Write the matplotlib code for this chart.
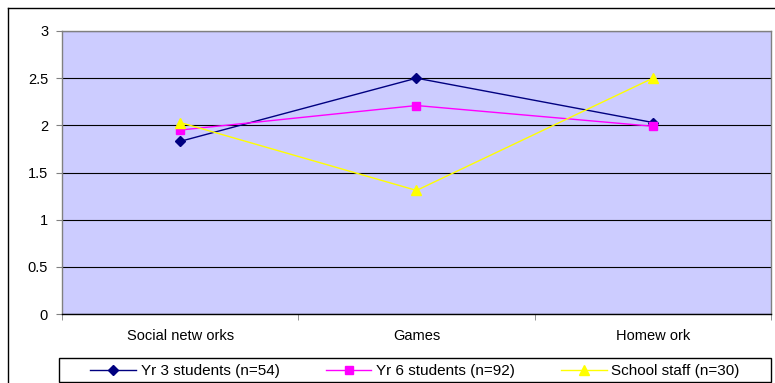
import matplotlib.pyplot as plt
from matplotlib.lines import Line2D
from matplotlib.patches import Rectangle

categories = ["Social netw orks", "Games", "Homew ork"]
yr3 = [1.83, 2.50, 2.03]
yr6 = [1.95, 2.21, 1.99]
staff = [2.03, 1.31, 2.50]
series_labels = ["Yr 3 students (n=54)", "Yr 6 students (n=92)", "School staff (n=30)"]

plt.rcParams['font.family'] = ['Liberation Sans', 'DejaVu Sans']
plt.rcParams['font.size'] = 10.5

W, H = 775, 383
fig = plt.figure(figsize=(W / 100, H / 100), dpi=100)
ax = fig.add_axes([62 / W, (H - 314) / H, 709 / W, 283 / H])
ax.set_facecolor('#CCCCFF')

x = range(len(categories))
ax.plot(x, yr3, color='#000080', lw=1.0, marker='D', ms=5, label=series_labels[0])
ax.plot(x, yr6, color='#FF00FF', lw=1.0, marker='s', ms=5.5, label=series_labels[1])
ax.plot(x, staff, color='#FFFF00', lw=1.0, marker='^', ms=6.5, label=series_labels[2])

ax.set_xlim(-0.5, 2.5)
ax.set_ylim(0, 3)
ax.set_yticks([0, 0.5, 1, 1.5, 2, 2.5, 3])
ax.set_yticklabels(['0', '0.5', '1', '1.5', '2', '2.5', '3'])
ax.yaxis.grid(True, color='black', lw=0.8)
ax.set_axisbelow(True)

ax.set_xticks(list(x))
ax.set_xticklabels(categories)
ax.set_xticks([-0.5, 0.5, 1.5, 2.5], minor=True)
ax.tick_params(axis='x', which='major', length=0, pad=11)
ax.tick_params(axis='x', which='minor', length=4, color='#808080')
ax.tick_params(axis='y', length=4, color='#808080', pad=6)

for s in ax.spines.values():
    s.set_color('#808080')
    s.set_linewidth(1.0)
ax.spines['bottom'].set_color('black')

# outer chart border (left and top edges)
fig.add_artist(Line2D([8 / W, 8 / W], [0, (H - 8) / H], color='black', lw=1.0))
fig.add_artist(Line2D([8 / W, 1], [(H - 8) / H, (H - 8) / H], color='black', lw=1.0))

# legend box at the bottom
fig.add_artist(Rectangle((59 / W, 1 / H), 712 / W, 24 / H, transform=fig.transFigure,
                         fill=False, edgecolor='black', lw=1.0))
fig.legend(loc='center', ncol=3, bbox_to_anchor=(415 / W, 12 / H),
           frameon=False, borderaxespad=0, handlelength=3.0,
           handletextpad=0.3, columnspacing=3.0, fontsize=11, borderpad=0)

fig.savefig('out.png', dpi=100)
